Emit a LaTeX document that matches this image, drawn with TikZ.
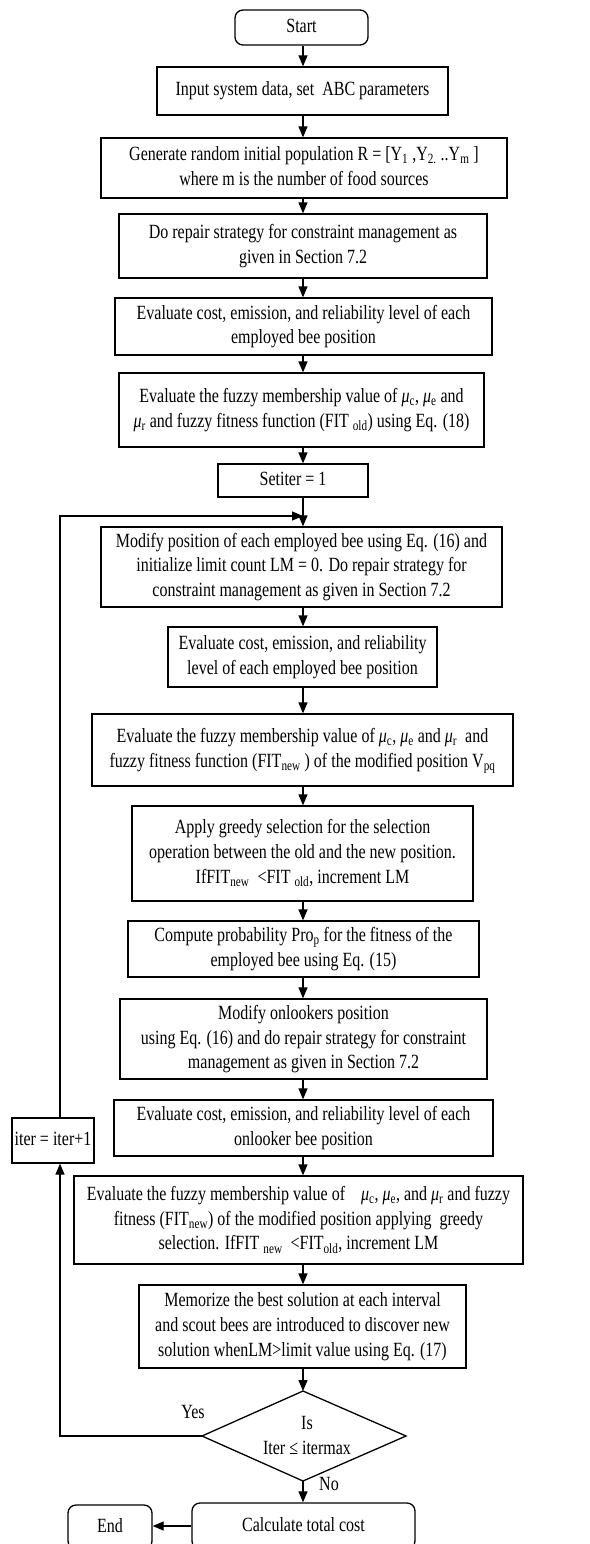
\documentclass[tikz,border=0pt]{standalone}
\usepackage{fontspec}
\setmainfont{Liberation Serif}
\usepackage{graphicx}
\usetikzlibrary{arrows.meta}
\newcommand{\tx}[1]{\scalebox{1}[1.26]{\begin{tabular}{@{}c@{}}#1\end{tabular}}}
\newcommand{\sbs}[1]{\textsubscript{#1}}
\newcommand{\mmu}{\textit{μ}}
\newcommand{\bx}[7]{\node[#1, minimum width={#5-#3}, minimum height={#6-#4}] (#2) at ({(#3+#5)/2},{(#4+#6)/2}) {\tx{#7}};}
\begin{document}
\begin{tikzpicture}[x=1pt,y=-1pt,
  every node/.style={font=\fontsize{16}{19.8}\selectfont, inner sep=0pt},
  blk/.style={draw, line width=1.3pt, rectangle},
  rnd/.style={blk, rounded corners=8pt},
  arr/.style={line width=1.3pt, -{Triangle[length=11pt,width=9pt]}},
  ln/.style={line width=1.3pt, line join=miter}]
\useasboundingbox (0,0) rectangle (589,1544);
\coordinate (ax) at (303,0);
\coordinate (lx) at (60,516);
\coordinate (j) at (303,516);

\bx{rnd}{start}{235}{10}{368}{45}{Start}
\bx{blk}{input}{157}{67}{448}{115}{Input system data, set\ \ ABC parameters}
\bx{blk}{gen}{101}{138}{507}{198}{Generate random initial population R = [Y\sbs{1} ,Y\sbs{2.} ..Y\sbs{m} ]\\ where m is the number of food sources}
\bx{blk}{rep}{119}{214}{487}{278}{Do repair strategy for constraint management as\\ given in Section 7.2}
\bx{blk}{ev1}{115}{298}{492}{355}{Evaluate cost, emission, and reliability level of each\\ employed bee position}
\bx{blk}{fz1}{119}{373}{484}{447}{Evaluate the fuzzy membership value of \mmu\sbs{c}, \mmu\sbs{e} and\\ \mmu\sbs{r} and fuzzy fitness function (FIT \sbs{old}) using Eq. (18)}
\bx{blk}{set}{218}{464}{368}{497}{Setiter = 1}
\bx{blk}{mod}{101}{527}{502}{607}{Modify position of each employed bee using Eq. (16) and\\ initialize limit count LM = 0. Do repair strategy for\\ constraint management as given in Section 7.2}
\bx{blk}{ev2}{168}{627}{437}{687}{Evaluate cost, emission, and reliability\\ level of each employed bee position}
\bx{blk}{fz2}{92}{714}{513}{786}{Evaluate the fuzzy membership value of \mmu\sbs{c}, \mmu\sbs{e} and \mmu\sbs{r}\ \ and\\ fuzzy fitness function (FIT\sbs{new} ) of the modified position V\sbs{pq}}
\bx{blk}{app}{132}{806}{473}{901}{Apply greedy selection for the selection\\ operation between the old and the new position.\\ IfFIT\sbs{new}\ \ <FIT \sbs{old}, increment LM}
\bx{blk}{cmp}{128}{921}{479}{977}{Compute probability Pro\sbs{p}\ for the fitness of the\\ employed bee using Eq. (15)}
\bx{blk}{onl}{120}{999}{487}{1079}{Modify onlookers position\\ using Eq. (16) and do repair strategy for constraint\\ management as given in Section 7.2}
\bx{blk}{ev3}{114}{1100}{493}{1156}{Evaluate cost, emission, and reliability level of each\\ onlooker bee position}
\bx{blk}{fz3}{74}{1176}{523}{1264}{Evaluate the fuzzy membership value of\ \ \ \ \mmu\sbs{c}, \mmu\sbs{e}, and \mmu\sbs{r} and fuzzy\\ fitness (FIT\sbs{new}) of the modified position applying\ \ greedy\\ selection. IfFIT \sbs{new}\ \ <FIT\sbs{old}, increment LM}
\bx{blk}{mem}{139}{1285}{466}{1368}{Memorize the best solution at each interval\\ and scout bees are introduced to discover new\\ solution whenLM>limit value using Eq. (17)}
\bx{blk}{iter}{12}{1118}{94}{1163}{iter = iter+1}
\bx{rnd}{calc}{192}{1503}{415}{1549}{Calculate total cost}
\bx{rnd}{endn}{68}{1505}{152}{1549}{End}

% decision diamond
\coordinate (dt) at (303,1391);
\coordinate (dr) at (406,1436);
\coordinate (db) at (303,1481);
\coordinate (dl) at (202,1436);
\draw[ln] (dt) -- (dr) -- (db) -- (dl) -- cycle;
\node (dtext) at (307,1437) {\tx{Is\\ Iter ≤ itermax}};
\node (yes) at (193,1413) {\tx{Yes}};
\node (no) at (329,1485) {\tx{No}};

% main flow
\draw[arr] (start.south -| ax) -- (input.north -| ax);
\draw[arr] (input.south -| ax) -- (gen.north -| ax);
\draw[arr] (gen.south -| ax) -- (rep.north -| ax);
\draw[arr] (rep.south -| ax) -- (ev1.north -| ax);
\draw[arr] (ev1.south -| ax) -- (fz1.north -| ax);
\draw[arr] (fz1.south -| ax) -- (set.north -| ax);
\draw[arr] (set.south -| ax) -- (mod.north -| ax);
\draw[arr] (mod.south -| ax) -- (ev2.north -| ax);
\draw[arr] (ev2.south -| ax) -- (fz2.north -| ax);
\draw[arr] (fz2.south -| ax) -- (app.north -| ax);
\draw[arr] (app.south -| ax) -- (cmp.north -| ax);
\draw[arr] (cmp.south -| ax) -- (onl.north -| ax);
\draw[arr] (onl.south -| ax) -- (ev3.north -| ax);
\draw[arr] (ev3.south -| ax) -- (fz3.north -| ax);
\draw[arr] (fz3.south -| ax) -- (mem.north -| ax);
\draw[arr] (mem.south -| ax) -- (dt);
\draw[arr] (db) -- (db |- calc.north);
\draw[arr] (calc.west) -- (calc.west -| endn.east);

% loop back
\draw[arr] (dl) -| (iter.south -| lx);
\draw[arr] (iter.north -| lx) -- (lx) -- (j);
\end{tikzpicture}
\end{document}
